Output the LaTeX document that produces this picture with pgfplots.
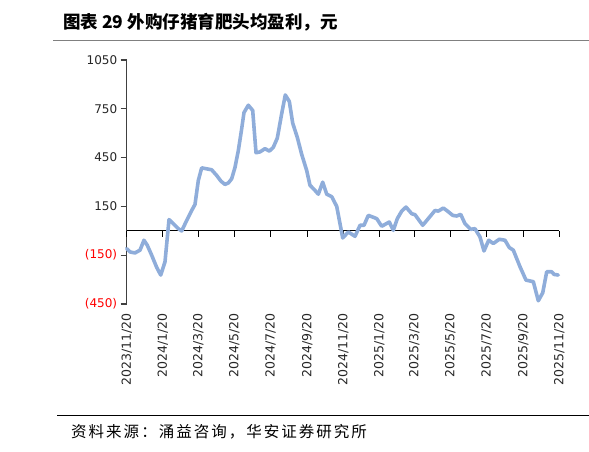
\documentclass[border=0pt]{standalone}
\usepackage{pgfplots}
\pgfplotsset{compat=1.18}
\usepackage{fontspec}
\setmainfont{DejaVu Sans}
\newfontfamily\cjk{Noto Sans CJK SC}
\newfontfamily\cjksp[LetterSpace=13]{Noto Sans CJK SC}
\definecolor{lineblue}{RGB}{143,173,218}
\begin{document}
\begin{tikzpicture}[x=1pt,y=1pt]
\useasboundingbox (0,0) rectangle (589,451);
\node[anchor=west,inner sep=0pt] at (63,429) {\cjk\bfseries\fontsize{17.5}{19}\selectfont 图表 29 外购仔猪育肥头均盈利，元};
\draw[black!50, line width=1.5pt] (53,410.5) -- (589,410.5);
\draw[black, line width=1pt] (57,36) -- (589,36);
\node[anchor=west,inner sep=0pt] at (71,19) {\cjksp\fontsize{15.5}{16}\selectfont 资料来源：涌益咨询，华安证券研究所};
\begin{axis}[
  at={(126.7pt,147pt)}, anchor=south west,
  scale only axis, width=432.6pt, height=244pt,
  xmin=0, xmax=731, ymin=-450, ymax=1050,
  axis x line*=bottom, axis y line*=left,
  axis line style={-},
  x axis line style={draw=none},
  y axis line style={black!75, line width=1.3pt},
  xtick={0,61,121,182,243,305,366,427,486,547,608,670,731},
  xticklabels={2023/11/20,2024/1/20,2024/3/20,2024/5/20,2024/7/20,2024/9/20,2024/11/20,2025/1/20,2025/3/20,2025/5/20,2025/7/20,2025/9/20,2025/11/20},
  x tick style={draw=none},
  xticklabel style={rotate=90, anchor=east, font=\fontsize{12.5}{12.5}\selectfont, text=black!85},
  ytick={-450,-150,150,450,750,1050},
  yticklabels={\textcolor{red}{(450)},\textcolor{red}{(150)},150,450,750,1050},
  yticklabel style={font=\fontsize{12}{12}\selectfont, text=black!85},
  y tick style={black!75, line width=1.3pt},
  tick align=outside, major tick length=6pt,
  clip=false,
]
\draw[black, line width=1.3pt] (axis cs:0,0) -- (axis cs:731,0);
\pgfplotsinvokeforeach{0,61,121,182,243,305,366,427,486,547,608,670,731}{
  \draw[black, line width=1.3pt] (axis cs:#1,0) -- ([yshift=-6pt]axis cs:#1,0);
}
\addplot[lineblue, line width=3.6pt, line join=round, line cap=round] coordinates {
(0,-109) (5.6,-130) (14.0,-136) (22.5,-119) (29.2,-58) (34.8,-89) (42.2,-150)
(50.7,-225) (57.5,-272) (64.7,-191) (71.5,69) (78.7,44) (87.2,13) (92.9,-1)
(101.4,64) (109.8,125) (115.4,162) (121.0,309) (126.7,387) (135.2,381)
(143.6,375) (152.1,340) (159.3,305) (166.1,285) (172.0,295) (177.4,320)
(183.0,390) (188.6,493) (194.0,620) (198.2,727) (205.5,772) (212.9,740)
(218.5,480) (225.2,485) (233.7,505) (241.0,490) (247.7,513) (254.5,570)
(261.9,720) (268.0,835) (274.8,795) (280.5,662) (288.3,574) (295.7,470)
(304.2,370) (309.7,280) (316.5,255) (323.8,225) (331.2,299) (338.0,225)
(346.4,210) (354.9,150) (365.0,-44) (374.5,-7) (385.8,-34) (394.3,34)
(401.0,34) (408.3,95) (422.4,75) (430.9,28) (443.7,54) (450.5,3) (457.3,75)
(464.7,121) (472.0,146) (481.6,105) (487.2,99) (500.2,34) (509.6,75)
(521.0,125) (526.5,121) (535.0,140) (540.7,125) (550.9,95) (557.6,91)
(564.4,101) (571.6,44) (581.3,9) (588.5,13) (597.0,-38) (603.7,-124)
(611.7,-58) (619.5,-78) (629.6,-52) (639.2,-58) (646.5,-103) (653.3,-119)
(664.6,-221) (674.7,-303) (687.1,-313) (695.5,-430) (703.0,-381)
(709.7,-252) (718.2,-252) (722.1,-268) (729.3,-272)
};
\end{axis}
\end{tikzpicture}
\end{document}
